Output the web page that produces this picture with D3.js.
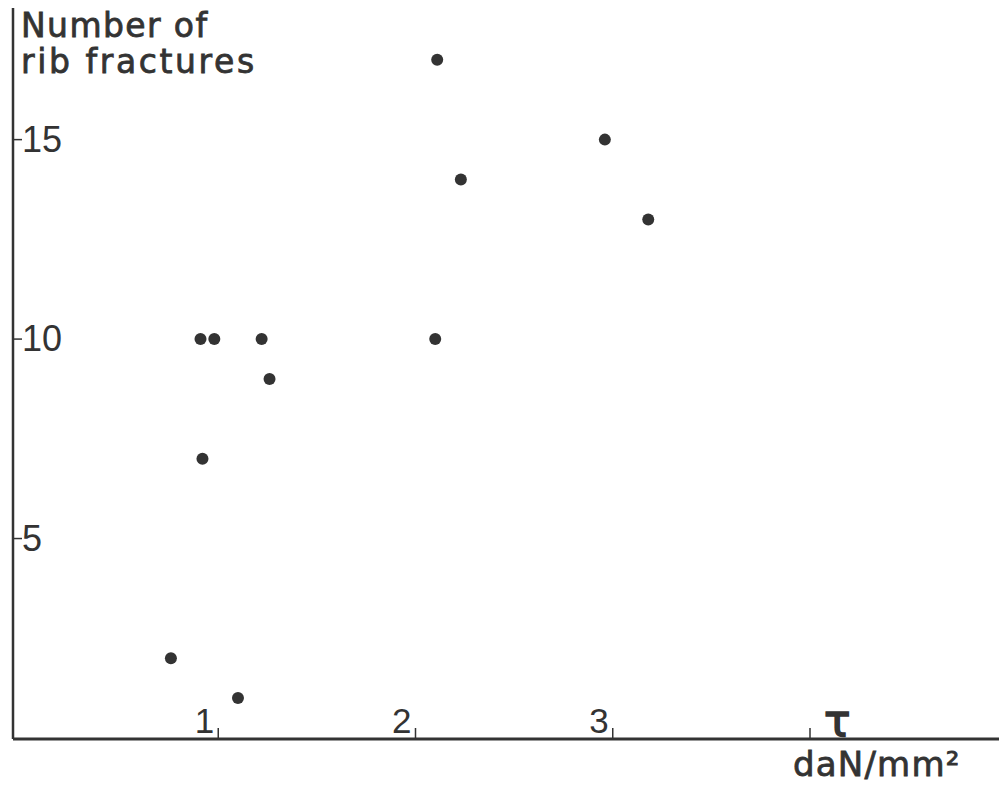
<!DOCTYPE html>
<html>
<head>
<meta charset="utf-8">
<script src="https://cdn.jsdelivr.net/npm/d3@7/dist/d3.min.js"></script>
<style>
  body { margin: 0; background: #fff; }
  svg { display: block; }
</style>
</head>
<body>
<script>
// shear stress (daN/mm2) vs number of rib fractures
var stress    = [0.76, 1.10, 0.92, 0.91, 0.98, 1.22, 1.26, 2.10, 2.11, 2.23, 2.96, 3.18]
var fractures = [2,    1,    7,    10,   10,   10,   9,    10,   17,   14,   15,   13]
var xTicks = [1, 2, 3, 4]
var xTickLabels = ['1', '2', '3', '']
var yTicks = [5, 10, 15]

var width = 999, height = 787
var ink = '#333'

var svg = d3.select('body').append('svg')
  .attr('width', width)
  .attr('height', height)

var x = d3.scaleLinear().domain([0, 4]).range([21, 810])
var y = d3.scaleLinear().domain([0, 18.5]).range([738, 0])

var axisX = 13, axisY = 739

// axis lines
svg.append('line')
  .attr('x1', axisX).attr('y1', 8)
  .attr('x2', axisX).attr('y2', axisY)
  .attr('stroke', ink).attr('stroke-width', 2.5)
svg.append('line')
  .attr('x1', axisX).attr('y1', axisY)
  .attr('x2', width).attr('y2', axisY)
  .attr('stroke', ink).attr('stroke-width', 3)

// x ticks, pointing up, labels sit left of them
var xt = svg.selectAll('g.xtick').data(xTicks).enter().append('g')
  .attr('class', 'xtick')
  .attr('transform', function(d) { return 'translate(' + x(d) + ',0)' })
xt.append('line')
  .attr('y1', axisY - 11).attr('y2', axisY)
  .attr('stroke', ink).attr('stroke-width', 1.5)
xt.append('text')
  .attr('x', -4).attr('y', axisY - 6)
  .attr('text-anchor', 'end')
  .attr('font-family', 'Liberation Sans, Arial, sans-serif')
  .attr('font-size', 35)
  .attr('fill', ink)
  .text(function(d, i) { return xTickLabels[i] })

// y ticks, pointing right
var yt = svg.selectAll('g.ytick').data(yTicks).enter().append('g')
  .attr('class', 'ytick')
  .attr('transform', function(d) { return 'translate(0,' + y(d) + ')' })
yt.append('line')
  .attr('x1', axisX).attr('x2', axisX + 9)
  .attr('stroke', ink).attr('stroke-width', 1.5)
yt.append('text')
  .attr('x', 22).attr('y', 12)
  .attr('font-family', 'Liberation Sans, Arial, sans-serif')
  .attr('font-size', 36)
  .attr('fill', ink)
  .text(function(d) { return d })

// semi-bold look: regular face with a thin outline
function label(sel, size, spacing) {
  return sel
    .attr('font-family', 'DejaVu Sans, sans-serif')
    .attr('font-size', size)
    .attr('letter-spacing', spacing)
    .attr('fill', ink)
    .attr('stroke', ink)
    .attr('stroke-width', 0.8)
}

// y axis title, two separate lines
label(svg.append('text'), 33, 1.4)
  .attr('x', 21).attr('y', 37)
  .text('Number of')
label(svg.append('text'), 33, 2.6)
  .attr('x', 21).attr('y', 73)
  .text('rib fractures')

// x axis symbol and unit
label(svg.append('text'), 44, 0)
  .attr('x', 824).attr('y', 736)
  .attr('stroke-width', 1.5)
  .text('τ')

label(svg.append('text'), 34, 1.2)
  .attr('x', 793).attr('y', 776)
  .text('daN/mm²')

// points
svg.selectAll('circle.pt').data(stress).enter().append('circle')
  .attr('class', 'pt')
  .attr('cx', function(d) { return x(d) })
  .attr('cy', function(d, i) { return y(fractures[i]) })
  .attr('r', 6)
  .attr('fill', ink)
</script>
</body>
</html>
